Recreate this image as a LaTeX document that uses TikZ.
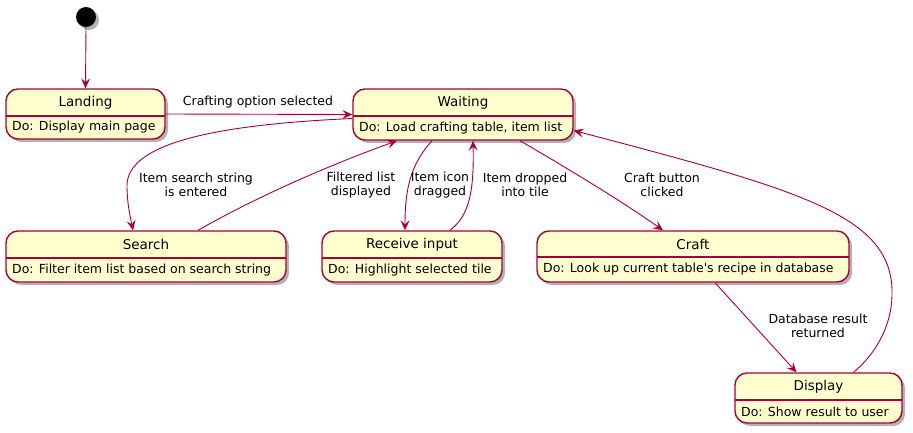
\documentclass[tikz,border=0pt]{standalone}
\usepackage{fontspec}
\setmainfont{DejaVu Sans}
\usetikzlibrary{arrows.meta,shadows,fit}
\definecolor{bord}{HTML}{A80036}
\definecolor{fillc}{HTML}{FEFECE}
\tikzset{
  statebox/.style={draw=bord, fill=fillc, rounded corners=12pt, line width=1.4pt, inner sep=0pt,
    drop shadow={shadow xshift=3pt, shadow yshift=-3pt, opacity=0.3, fill=black}},
  divline/.style={draw=bord, line width=1.1pt},
  titletext/.style={font=\fontsize{13.5}{16}\selectfont, inner sep=0pt},
  bodytext/.style={font=\fontsize{12.5}{14}\selectfont, inner sep=0pt, anchor=west},
  lbl/.style={font=\fontsize{12.5}{14.5}\selectfont, align=center, inner sep=0pt},
  edge/.style={draw=bord, line width=0.9pt, -{Stealth[length=10pt,width=9pt,inset=4pt]}},
}
\newcommand\stbox[8]{%
  \path (#2,#3) coordinate (#1-nw) (#4,#5) coordinate (#1-se);
  \node[statebox, fit=(#1-nw)(#1-se)] (#1) {};
  \draw[divline] (#2,#6) -- (#4,#6);
  \node[titletext] (#1-t) at ({(#2+#4)/2},{(#3+#6)/2}) {#7};
  \node[bodytext] (#1-b) at ({#2+6},{(#6+#5)/2}) {#8};
}
\begin{document}
\begin{tikzpicture}[x=1pt,y=-1pt]
\useasboundingbox (0,0) rectangle (913,433);
\node[circle, fill=black, minimum size=20pt, inner sep=0pt,
  drop shadow={shadow xshift=3pt, shadow yshift=-3pt, opacity=0.3, fill=black}] (start) at (86,17) {};
\stbox{landing}{6}{89}{165}{139}{116}{Landing}{Do: Display main page}
\stbox{waiting}{353}{89}{573}{140}{116}{Waiting}{Do: Load crafting table, item list}
\stbox{search}{6}{231}{286}{282}{258}{Search}{Do: Filter item list based on search string}
\stbox{receive}{322}{231}{502}{282}{258}{Receive input}{Do: Highlight selected tile}
\stbox{craft}{537}{231}{849}{282}{257}{Craft}{Do: Look up current table\textquotesingle s recipe in database}
\stbox{display}{735}{373}{902}{423}{400}{Display}{Do: Show result to user}

% start -> landing
\draw[edge] (start.south) -- (landing.north);
% landing -> waiting
\draw[edge] (landing.east) -- (waiting.west);
\node[lbl] (l1) at (258,102) {Crafting option selected};
% waiting -> search
\draw[edge] ([yshift=-4pt]waiting.west) .. controls (230,124) and (128,140) .. (127,185)
  .. controls (127,205) and (131,220) .. ([xshift=-13pt]search.north);
\node[lbl] (l2) at (196,185) {Item search string\\is entered};
% search -> waiting
\draw[edge] ([xshift=52pt]search.north) .. controls (260,195) and (330,165) .. ([xshift=-66pt]waiting.south);
\node[lbl] (l3) at (361,185) {Filtered list\\displayed};
% waiting -> receive
\draw[edge] ([xshift=-31pt]waiting.south) .. controls (410,165) and (405,190) .. ([xshift=-7pt]receive.north);
\node[lbl] (l4) at (440,185) {Item icon\\dragged};
% receive -> waiting
\draw[edge] ([xshift=38pt]receive.north) .. controls (470,215) and (474,190) .. ([xshift=10pt]waiting.south);
\node[lbl] (l5) at (525,185) {Item dropped\\into tile};
% waiting -> craft
\draw[edge] ([xshift=57pt]waiting.south) .. controls (570,170) and (620,200) .. ([xshift=-30pt]craft.north);
\node[lbl] (l6) at (662,185) {Craft button\\clicked};
% craft -> display
\draw[edge] ([xshift=22pt]craft.south) -- ([xshift=-22pt]display.north);
\node[lbl] (l7) at (818,326) {Database result\\returned};
% display -> waiting
\draw[edge] ([xshift=35pt]display.north) .. controls (880,350) and (893,320) .. (892,290)
  .. controls (890,215) and (800,190) .. ([yshift=-16pt]waiting.east);
\end{tikzpicture}
\end{document}
